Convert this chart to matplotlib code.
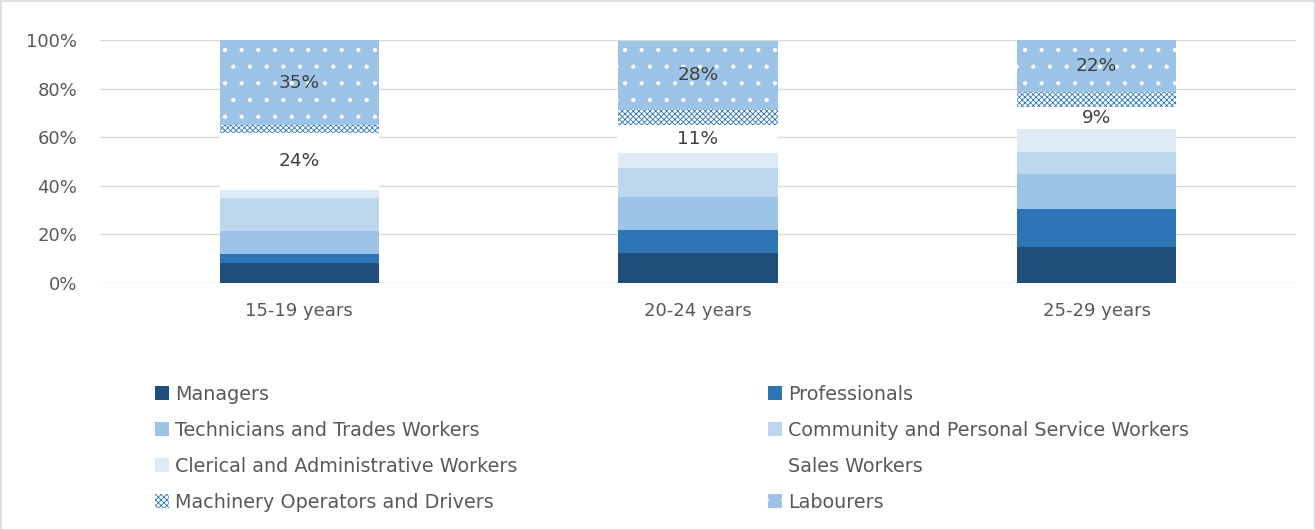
import matplotlib
matplotlib.use("Agg")
import matplotlib.pyplot as plt
from matplotlib.patches import Patch, Rectangle
import numpy as np

categories = ["15-19 years", "20-24 years", "25-29 years"]
series_names = ["Managers", "Professionals", "Technicians and Trades Workers",
                "Community and Personal Service Workers", "Clerical and Administrative Workers",
                "Sales Workers", "Machinery Operators and Drivers", "Labourers"]
managers = [8.4, 12.2, 14.9]
professionals = [3.4, 9.6, 15.5]
technicians = [9.6, 13.7, 14.3]
community = [13.7, 11.7, 9.3]
clerical = [3.2, 6.4, 9.2]
sales = [23.6, 11.4, 9.1]
machinery = [3.1, 6.5, 6.4]
labourers = [35.0, 28.2, 21.3]
labelled = {"Sales Workers": ["24%", "11%", "9%"], "Labourers": ["35%", "28%", "22%"]}

values = [managers, professionals, technicians, community, clerical, sales, machinery, labourers]
styles = [
    dict(facecolor="#1F4E79", edgecolor="#1F4E79", hatch=None),
    dict(facecolor="#2E75B6", edgecolor="#2E75B6", hatch=None),
    dict(facecolor="#9DC3E6", edgecolor="#9DC3E6", hatch=None),
    dict(facecolor="#BDD7EE", edgecolor="#BDD7EE", hatch=None),
    dict(facecolor="#DEEBF7", edgecolor="#DEEBF7", hatch=None),
    dict(facecolor="white", edgecolor="white", hatch=None),
    dict(facecolor="white", edgecolor="#2E75B6", hatch="xxxxxx"),
    dict(facecolor="#9DC3E6", edgecolor="white", hatch="."),
]

plt.rcParams["font.family"] = ["DejaVu Sans"]
plt.rcParams["hatch.linewidth"] = 0.6
text_color = "#595959"

fig = plt.figure(figsize=(13.15, 5.3), dpi=100)
ax = fig.add_axes([100/1315, 247/530, 1196/1315, 243/530])

x = np.arange(len(categories))
width = 0.4
bottom = np.zeros(len(categories))
handles = []
for name, vals, st in zip(series_names, values, styles):
    vals = np.array(vals)
    ax.bar(x, vals, width, bottom=bottom, facecolor=st["facecolor"],
           edgecolor=st["edgecolor"], hatch=st["hatch"], linewidth=0, zorder=2)
    if name in labelled:
        for xi, b, v, lab in zip(x, bottom, vals, labelled[name]):
            ax.text(xi, b + v/2, lab, ha="center", va="center", fontsize=13.3,
                    color="#404040", zorder=3)
    handles.append(Patch(facecolor=st["facecolor"], edgecolor=st["edgecolor"],
                         hatch=st["hatch"], linewidth=0, label=name))
    bottom = bottom + vals

ax.set_xlim(-0.5, 2.5)
ax.set_ylim(0, 100)
ax.set_yticks(np.arange(0, 101, 20))
ax.set_yticklabels([f"{v}%" for v in range(0, 101, 20)])
ax.set_xticks(x)
ax.set_xticklabels(categories)
ax.tick_params(axis="both", length=0, labelsize=13, colors=text_color)
ax.tick_params(axis="x", pad=14)
ax.tick_params(axis="y", pad=16.5)
ax.grid(axis="y", color="#D9D9D9", linewidth=1, zorder=0)
ax.set_axisbelow(True)
for s in ax.spines.values():
    s.set_visible(False)

leg_kw = dict(loc="upper left", frameon=False, fontsize=13.8, labelcolor=text_color,
              handlelength=0.73, handleheight=0.73, handletextpad=0.31,
              labelspacing=0.88, borderaxespad=0, borderpad=0)
col1 = [0, 2, 4, 6]
col2 = [1, 3, 5, 7]
fig.legend([handles[i] for i in col1], [series_names[i] for i in col1],
           bbox_to_anchor=(155/1315, 1 - 385/530), **leg_kw)
fig.legend([handles[i] for i in col2], [series_names[i] for i in col2],
           bbox_to_anchor=(768/1315, 1 - 385/530), **leg_kw)

fig.patches.append(Rectangle((0.5/1315, 0.5/530), 1 - 1/1315, 1 - 1/530, transform=fig.transFigure,
                             fill=False, edgecolor="#D9D9D9", linewidth=1.2))

fig.savefig("out.png", dpi=100)
